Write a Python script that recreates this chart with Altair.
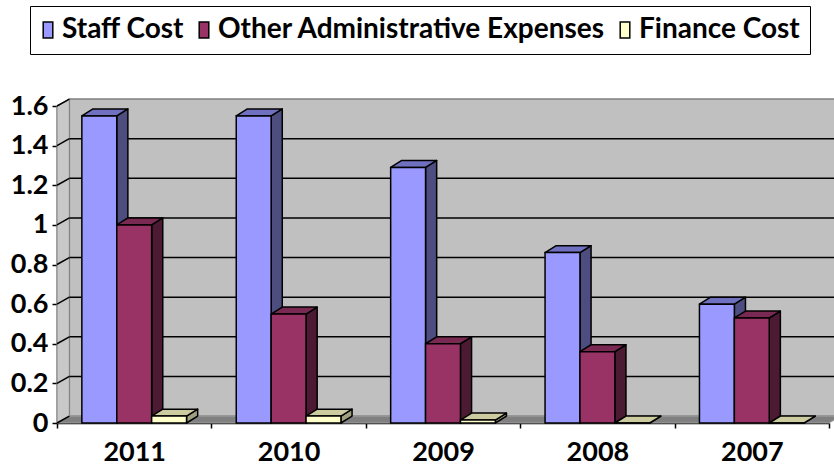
import json
import altair as alt
import pandas as pd

# ---- data -------------------------------------------------------------
years = ["2011", "2010", "2009", "2008", "2007"]
series = ["Staff Cost", "Other Administrative Expenses", "Finance Cost"]
staff_cost = [1.55, 1.55, 1.29, 0.86, 0.60]
other_admin = [1.00, 0.55, 0.40, 0.36, 0.53]
finance_cost = [0.035, 0.035, 0.015, 0.0, 0.0]
y_ticks = [0, 0.2, 0.4, 0.6, 0.8, 1.0, 1.2, 1.4, 1.6]

# ---- styling ----------------------------------------------------------
front_colors = ["#9999FF", "#993366", "#FFFFCC"]
top_colors = ["#7070C0", "#7A2952", "#CCCCA0"]
side_colors = ["#4D4D80", "#4D1A33", "#A0A080"]
WALL = "#C0C0C0"
FLOOR = "#808080"
FONT = "Lato"

BAR_W = 0.226      # bar width, in category units
DX = 0.072         # 3-D depth offset along x, category units
DY = 0.035         # 3-D depth offset along y, value units
WALL_DX = 0.08
YMAX = y_ticks[-1]
N = len(years)

PLOT_W, PLOT_H = 772, 317

x_scale = alt.Scale(domain=[0, N], nice=False, zero=False)
y_scale = alt.Scale(domain=[0, YMAX], nice=False, zero=False)

# ---- geometry tables built from the data ------------------------------
values = [staff_cost, other_admin, finance_cost]
bars, sides, tops = [], [], []
for i, yr in enumerate(years):
    for j, s in enumerate(series):
        v = values[j][i]
        x0 = i + 0.5 - 1.5 * BAR_W + j * BAR_W
        x1 = x0 + BAR_W
        bid = f"{yr}-{j}"
        bars.append({"year": yr, "series": s, "x0": x0, "x1": x1, "v": v, "base": 0.0})
        sides.append({"bar": bid, "series": s, "x": x1, "top": v, "bot": 0.0})
        sides.append({"bar": bid, "series": s, "x": x1 + DX, "top": v + DY, "bot": DY})
        tops.append({"bar": bid, "series": s, "y": v, "xl": x0, "xr": x1})
        tops.append({"bar": bid, "series": s, "y": v + DY, "xl": x0 + DX, "xr": x1 + DX})
bars = pd.DataFrame(bars)
sides = pd.DataFrame(sides)
tops = pd.DataFrame(tops)

back_wall = pd.DataFrame([{"x": WALL_DX, "x2": N + WALL_DX, "y": DY, "y2": YMAX + DY}])
side_wall = pd.DataFrame([
    {"x": 0.0, "top": YMAX, "bot": 0.0},
    {"x": WALL_DX, "top": YMAX + DY, "bot": DY},
])
floor = pd.DataFrame([
    {"y": 0.0, "xl": 0.0, "xr": float(N)},
    {"y": DY, "xl": WALL_DX, "xr": N + WALL_DX},
])
grid = pd.DataFrame({
    "x": WALL_DX, "x2": N + WALL_DX,
    "v": [t + DY for t in y_ticks[1:-1]],
})
diag = pd.DataFrame({
    "x": 0.0, "x2": WALL_DX,
    "v": y_ticks, "v2": [t + DY for t in y_ticks],
})

# ---- axes (shared by every layer) -------------------------------------
label_expr = f"{json.dumps(years)}[datum.value] || ''"
x_axis = alt.Axis(
    values=list(range(N + 1)), labelExpr=label_expr, labelOffset=PLOT_W / N / 2,
    labelFlush=False, labelOverlap=False, grid=False, title=None,
    domainColor="black", domainWidth=1.5, tickColor="black", tickWidth=1.5, tickSize=5,
    labelFont=FONT, labelFontWeight="bold", labelFontSize=27, labelColor="black",
    labelPadding=11,
)
y_axis = alt.Axis(
    values=y_ticks, format="~g", grid=False, title=None,
    domainColor="black", domainWidth=1.5, tickColor="black", tickWidth=1.5, tickSize=5,
    labelFont=FONT, labelFontWeight="bold", labelFontSize=27, labelColor="black",
    labelPadding=4,
)


def X(field):
    return alt.X(field, scale=x_scale, axis=x_axis, stack=None)


def Y(field):
    return alt.Y(field, scale=y_scale, axis=y_axis, stack=None)


# ---- walls, floor and grid --------------------------------------------
wall_back = alt.Chart(back_wall).mark_rect(fill=WALL, stroke="#808080", strokeWidth=1.5).encode(
    x=X("x:Q"), x2="x2:Q", y=Y("y:Q"), y2="y2:Q",
)
wall_side = alt.Chart(side_wall).mark_area(fill="#C8C8C8", stroke="#808080", strokeWidth=1).encode(
    x=X("x:Q"), y=Y("top:Q"), y2="bot:Q",
)
floor_layer = alt.Chart(floor).mark_area(orient="horizontal", fill=FLOOR, stroke="#A0A0A0", strokeWidth=1).encode(
    y=Y("y:Q"), x=X("xl:Q"), x2="xr:Q",
)
grid_layer = alt.Chart(grid).mark_rule(color="black", strokeWidth=1.5).encode(
    x=X("x:Q"), x2="x2:Q", y=Y("v:Q"),
)
diag_layer = alt.Chart(diag).mark_rule(color="black", strokeWidth=1.5).encode(
    x=X("x:Q"), x2="x2:Q", y=Y("v:Q"), y2="v2:Q",
)

# ---- 3-D bars: side faces, top faces, then front faces ----------------
side_layer = alt.Chart(sides).mark_area(stroke="black", strokeWidth=1.5, strokeJoin="round").encode(
    x=X("x:Q"), y=Y("top:Q"), y2="bot:Q",
    detail="bar:N",
    fill=alt.Fill("series:N", scale=alt.Scale(domain=series, range=side_colors), legend=None),
)
top_layer = alt.Chart(tops).mark_area(orient="horizontal", stroke="black", strokeWidth=1.5, strokeJoin="round").encode(
    y=Y("y:Q"), x=X("xl:Q"), x2="xr:Q",
    detail="bar:N",
    fill=alt.Fill("series:N", scale=alt.Scale(domain=series, range=top_colors), legend=None),
)
front_layer = alt.Chart(bars).mark_rect(stroke="black", strokeWidth=1.5).encode(
    x=X("x0:Q"), x2="x1:Q", y=Y("v:Q"), y2="base:Q",
    fill=alt.Fill(
        "series:N",
        scale=alt.Scale(domain=series, range=front_colors),
        legend=alt.Legend(
            orient="none", legendX=-27, legendY=-100, direction="horizontal", columns=3,
            title=None, strokeColor="black", fillColor="white", padding=10,
            symbolType="M-0.6,-1H0.6V1H-0.6Z", symbolSize=256, symbolOffset=-6,
            symbolStrokeColor="black", symbolStrokeWidth=1.5,
            labelFont=FONT, labelFontWeight="bold", labelFontSize=28, labelColor="black",
            labelLimit=600, labelOffset=0, columnPadding=11,
        ),
    ),
)

chart = (
    alt.layer(wall_back, wall_side, floor_layer, grid_layer, diag_layer,
              side_layer, top_layer, front_layer)
    .resolve_scale(fill="independent")
    .properties(
        width=PLOT_W, height=PLOT_H,
        autosize=alt.AutoSizeParams(type="none"),
        padding={"left": 57, "top": 106, "right": 5, "bottom": 45},
        background="white",
    )
    .configure_view(stroke=None)
)

chart.save("out.html", embed_options={"renderer": "svg", "actions": False})
